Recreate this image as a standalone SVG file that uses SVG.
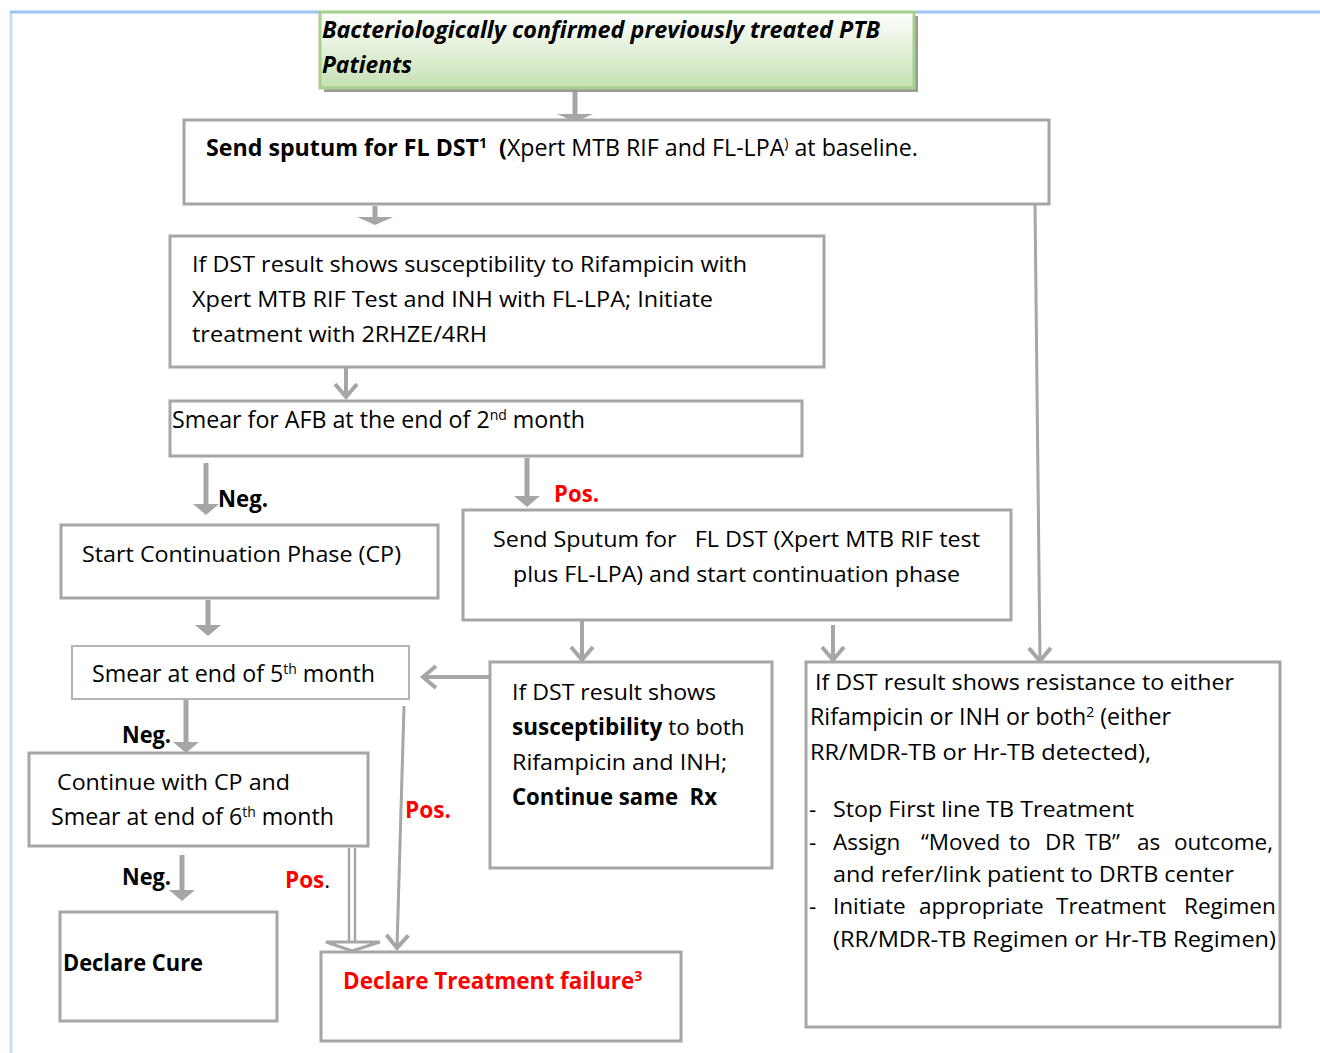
<svg xmlns="http://www.w3.org/2000/svg" width="1320" height="1053" viewBox="0 0 1320 1053">
  <style>
    text { font-family: "Open Sans", "Noto Sans", "Liberation Sans", sans-serif; font-size: 22.5px; fill: #000; }
    .lg { font-size: 23.2px; }
    .b { font-weight: bold; }
    .red { fill: #ff0000; font-weight: bold; }
    .sup { font-size: 14px; }
    .box { fill: #fff; stroke: #a6a6a6; stroke-width: 3; }
    .thin { fill: #fff; stroke: #b4b4b4; stroke-width: 2; }
    .sh { stroke: #a6a6a6; fill: none; }
  </style>
  <defs>
    <linearGradient id="grn" x1="0" y1="0" x2="0" y2="1">
      <stop offset="0" stop-color="#ffffff"/>
      <stop offset="1" stop-color="#c6e0b2"/>
    </linearGradient>
    <!-- open chevron head -->
    <marker id="vee" markerUnits="userSpaceOnUse" viewBox="-20 -16 24 32" refX="0" refY="0" markerWidth="24" markerHeight="32" orient="auto" overflow="visible">
      <path d="M-13,-11 L0,0 L-13,11" fill="none" stroke="#a6a6a6" stroke-width="4" stroke-linejoin="miter"/>
    </marker>
    <!-- solid narrow block head -->
    <marker id="blk" markerUnits="userSpaceOnUse" viewBox="-2 -16 16 32" refX="0" refY="0" markerWidth="16" markerHeight="32" orient="auto" overflow="visible">
      <polygon points="-1,-13 10,0 -1,13" fill="#a6a6a6"/>
    </marker>
    <!-- solid wide flat head -->
    <marker id="blkW" markerUnits="userSpaceOnUse" viewBox="-2 -20 12 40" refX="0" refY="0" markerWidth="12" markerHeight="40" orient="auto" overflow="visible">
      <polygon points="-1,-18 7,0 -1,18" fill="#a6a6a6"/>
    </marker>
  </defs>

  <!-- page frame -->
  <g id="frame">
    <line x1="11" y1="12" x2="11" y2="1053" stroke="#c9dcf6" stroke-width="3"/>
    <line x1="10" y1="12" x2="320" y2="12" stroke="#9ec2f0" stroke-width="3"/>
    <line x1="915" y1="12" x2="1320" y2="12" stroke="#9ec2f0" stroke-width="3"/>
  </g>

  <!-- connectors -->
  <g id="connectors">
    <line class="sh" x1="575" y1="92" x2="575" y2="115" stroke-width="5" marker-end="url(#blkW)"/>
    <line class="sh" x1="375" y1="206" x2="375" y2="218" stroke-width="5" marker-end="url(#blkW)"/>
    <line class="sh" x1="346" y1="348" x2="346" y2="397" stroke-width="4" marker-end="url(#vee)"/>
    <line class="sh" x1="206" y1="463" x2="206" y2="505" stroke-width="5" marker-end="url(#blk)"/>
    <line class="sh" x1="527" y1="458" x2="527" y2="497" stroke-width="5" marker-end="url(#blk)"/>
    <line class="sh" x1="208" y1="600" x2="208" y2="626" stroke-width="5" marker-end="url(#blk)"/>
    <line class="sh" x1="582" y1="608" x2="582" y2="660" stroke-width="4" marker-end="url(#vee)"/>
    <line class="sh" x1="833" y1="625" x2="833" y2="660" stroke-width="4" marker-end="url(#vee)"/>
    <line class="sh" x1="1035" y1="205" x2="1040" y2="661" stroke-width="3" marker-end="url(#vee)"/>
    <line class="sh" x1="490" y1="677" x2="423" y2="677" stroke-width="4" marker-end="url(#vee)"/>
    <line class="sh" x1="186" y1="700" x2="186" y2="743" stroke-width="5" marker-end="url(#blk)"/>
    <line class="sh" x1="182" y1="855" x2="182" y2="891" stroke-width="5" marker-end="url(#blk)"/>
    <line class="sh" x1="404" y1="706" x2="397" y2="948" stroke-width="3" marker-end="url(#vee)"/>
    <!-- double-line arrow with hollow head -->
    <line class="sh" x1="349" y1="848" x2="349" y2="942" stroke-width="2.5"/>
    <line class="sh" x1="355" y1="848" x2="355" y2="942" stroke-width="2.5"/>
    <polygon points="326,942 380,942 352,951" fill="#fff" stroke="#a6a6a6" stroke-width="3" stroke-linejoin="miter"/>
  </g>

  <!-- start node -->
  <g id="n-start">
    <rect x="324" y="16" width="594" height="76" fill="#9a9a9a"/>
    <rect x="320" y="12" width="594" height="76" fill="url(#grn)" stroke="#a7cf8e" stroke-width="3"/>
    <text x="322" y="38" class="b" font-style="italic" textLength="558" lengthAdjust="spacingAndGlyphs">Bacteriologically confirmed previously treated PTB</text>
    <text x="322" y="73" class="b" font-style="italic" textLength="90" lengthAdjust="spacingAndGlyphs">Patients</text>
  </g>

  <g id="n-send-baseline">
    <rect class="box" x="184" y="120" width="865" height="84"/>
    <text x="206" y="156" class="lg" xml:space="preserve"><tspan class="b">Send sputum for FL DST</tspan><tspan class="b sup" dy="-8">1</tspan><tspan class="b" dy="8">  (</tspan><tspan>Xpert MTB RIF and FL-LPA</tspan><tspan class="sup" dy="-8">)</tspan><tspan dy="8"> at baseline.</tspan></text>
  </g>

  <g id="n-initiate">
    <rect class="box" x="170" y="236" width="654" height="131"/>
    <text x="192" y="272" textLength="555" lengthAdjust="spacingAndGlyphs">If DST result shows susceptibility to Rifampicin with</text>
    <text x="192" y="307" textLength="521" lengthAdjust="spacingAndGlyphs">Xpert MTB RIF Test and INH with FL-LPA; Initiate</text>
    <text x="192" y="342" textLength="295" lengthAdjust="spacingAndGlyphs">treatment with 2RHZE/4RH</text>
  </g>

  <g id="n-smear2">
    <rect class="box" x="170" y="401" width="632" height="55"/>
    <text x="172" y="428" class="lg">Smear for AFB at the end of 2<tspan class="sup" dy="-8">nd</tspan><tspan dy="8"> month</tspan></text>
  </g>

  <g id="labels">
    <text x="218" y="507" class="b" textLength="50" lengthAdjust="spacingAndGlyphs">Neg.</text>
    <text x="554" y="502" class="red" textLength="45" lengthAdjust="spacingAndGlyphs">Pos.</text>
    <text x="122" y="743" class="b" textLength="49" lengthAdjust="spacingAndGlyphs">Neg.</text>
    <text x="405" y="818" class="red" textLength="46" lengthAdjust="spacingAndGlyphs">Pos.</text>
    <text x="122" y="885" class="b" textLength="49" lengthAdjust="spacingAndGlyphs">Neg.</text>
    <text x="285" y="888"><tspan class="red">Pos</tspan>.</text>
  </g>

  <g id="n-start-cp">
    <rect class="box" x="61" y="525" width="377" height="73"/>
    <text x="82" y="562" textLength="319" lengthAdjust="spacingAndGlyphs">Start Continuation Phase (CP)</text>
  </g>

  <g id="n-send-followup">
    <rect class="box" x="463" y="510" width="548" height="110"/>
    <text x="493" y="547" textLength="487" lengthAdjust="spacingAndGlyphs" xml:space="preserve">Send Sputum for   FL DST (Xpert MTB RIF test</text>
    <text x="513" y="582" textLength="447" lengthAdjust="spacingAndGlyphs">plus FL-LPA) and start continuation phase</text>
  </g>

  <g id="n-smear5">
    <rect class="thin" x="72" y="646" width="337" height="53"/>
    <text x="92" y="682" class="lg">Smear at end of 5<tspan class="sup" dy="-8">th</tspan><tspan dy="8"> month</tspan></text>
  </g>

  <g id="n-susceptible">
    <rect class="box" x="490" y="662" width="282" height="206"/>
    <text x="512" y="700" textLength="204" lengthAdjust="spacingAndGlyphs">If DST result shows</text>
    <text x="512" y="735"><tspan class="b">susceptibility</tspan> to both</text>
    <text x="512" y="770" textLength="215" lengthAdjust="spacingAndGlyphs">Rifampicin and INH;</text>
    <text x="512" y="805" class="b" xml:space="preserve" textLength="205" lengthAdjust="spacingAndGlyphs">Continue same  Rx</text>
  </g>

  <g id="n-resistant">
    <rect class="box" x="806" y="662" width="474" height="365"/>
    <text x="815" y="690" textLength="419" lengthAdjust="spacingAndGlyphs">If DST result shows resistance to either</text>
    <text x="810" y="725" class="lg">Rifampicin or INH or both<tspan class="sup" dy="-8">2</tspan><tspan dy="8"> (either</tspan></text>
    <text x="810" y="760" textLength="341" lengthAdjust="spacingAndGlyphs">RR/MDR-TB or Hr-TB detected),</text>
    <text x="809" y="817">-</text>
    <text x="833" y="817" textLength="301" lengthAdjust="spacingAndGlyphs">Stop First line TB Treatment</text>
    <text x="809" y="850">-</text>
    <text y="850"><tspan x="833">Assign</tspan><tspan x="921">“Moved</tspan><tspan x="1009">to</tspan><tspan x="1045">DR</tspan><tspan x="1085">TB”</tspan><tspan x="1137">as</tspan><tspan x="1174">outcome,</tspan></text>
    <text x="833" y="882" textLength="401" lengthAdjust="spacingAndGlyphs">and refer/link patient to DRTB center</text>
    <text x="809" y="914">-</text>
    <text y="914"><tspan x="833">Initiate</tspan><tspan x="919">appropriate</tspan><tspan x="1056">Treatment</tspan><tspan x="1184">Regimen</tspan></text>
    <text x="833" y="947" textLength="443" lengthAdjust="spacingAndGlyphs">(RR/MDR-TB Regimen or Hr-TB Regimen)</text>
  </g>

  <g id="n-smear6">
    <rect class="box" x="29" y="753" width="339" height="93"/>
    <text x="57" y="790" textLength="233" lengthAdjust="spacingAndGlyphs">Continue with CP and</text>
    <text x="51" y="825" class="lg">Smear at end of 6<tspan class="sup" dy="-8">th</tspan><tspan dy="8"> month</tspan></text>
  </g>

  <g id="n-cure">
    <rect class="box" x="60" y="912" width="217" height="109"/>
    <text x="63" y="971" class="b" textLength="140" lengthAdjust="spacingAndGlyphs">Declare Cure</text>
  </g>

  <g id="n-failure">
    <rect class="box" x="321" y="952" width="360" height="89"/>
    <text x="343" y="989" class="red">Declare Treatment failure<tspan class="sup" dy="-8">3</tspan></text>
  </g>
</svg>
